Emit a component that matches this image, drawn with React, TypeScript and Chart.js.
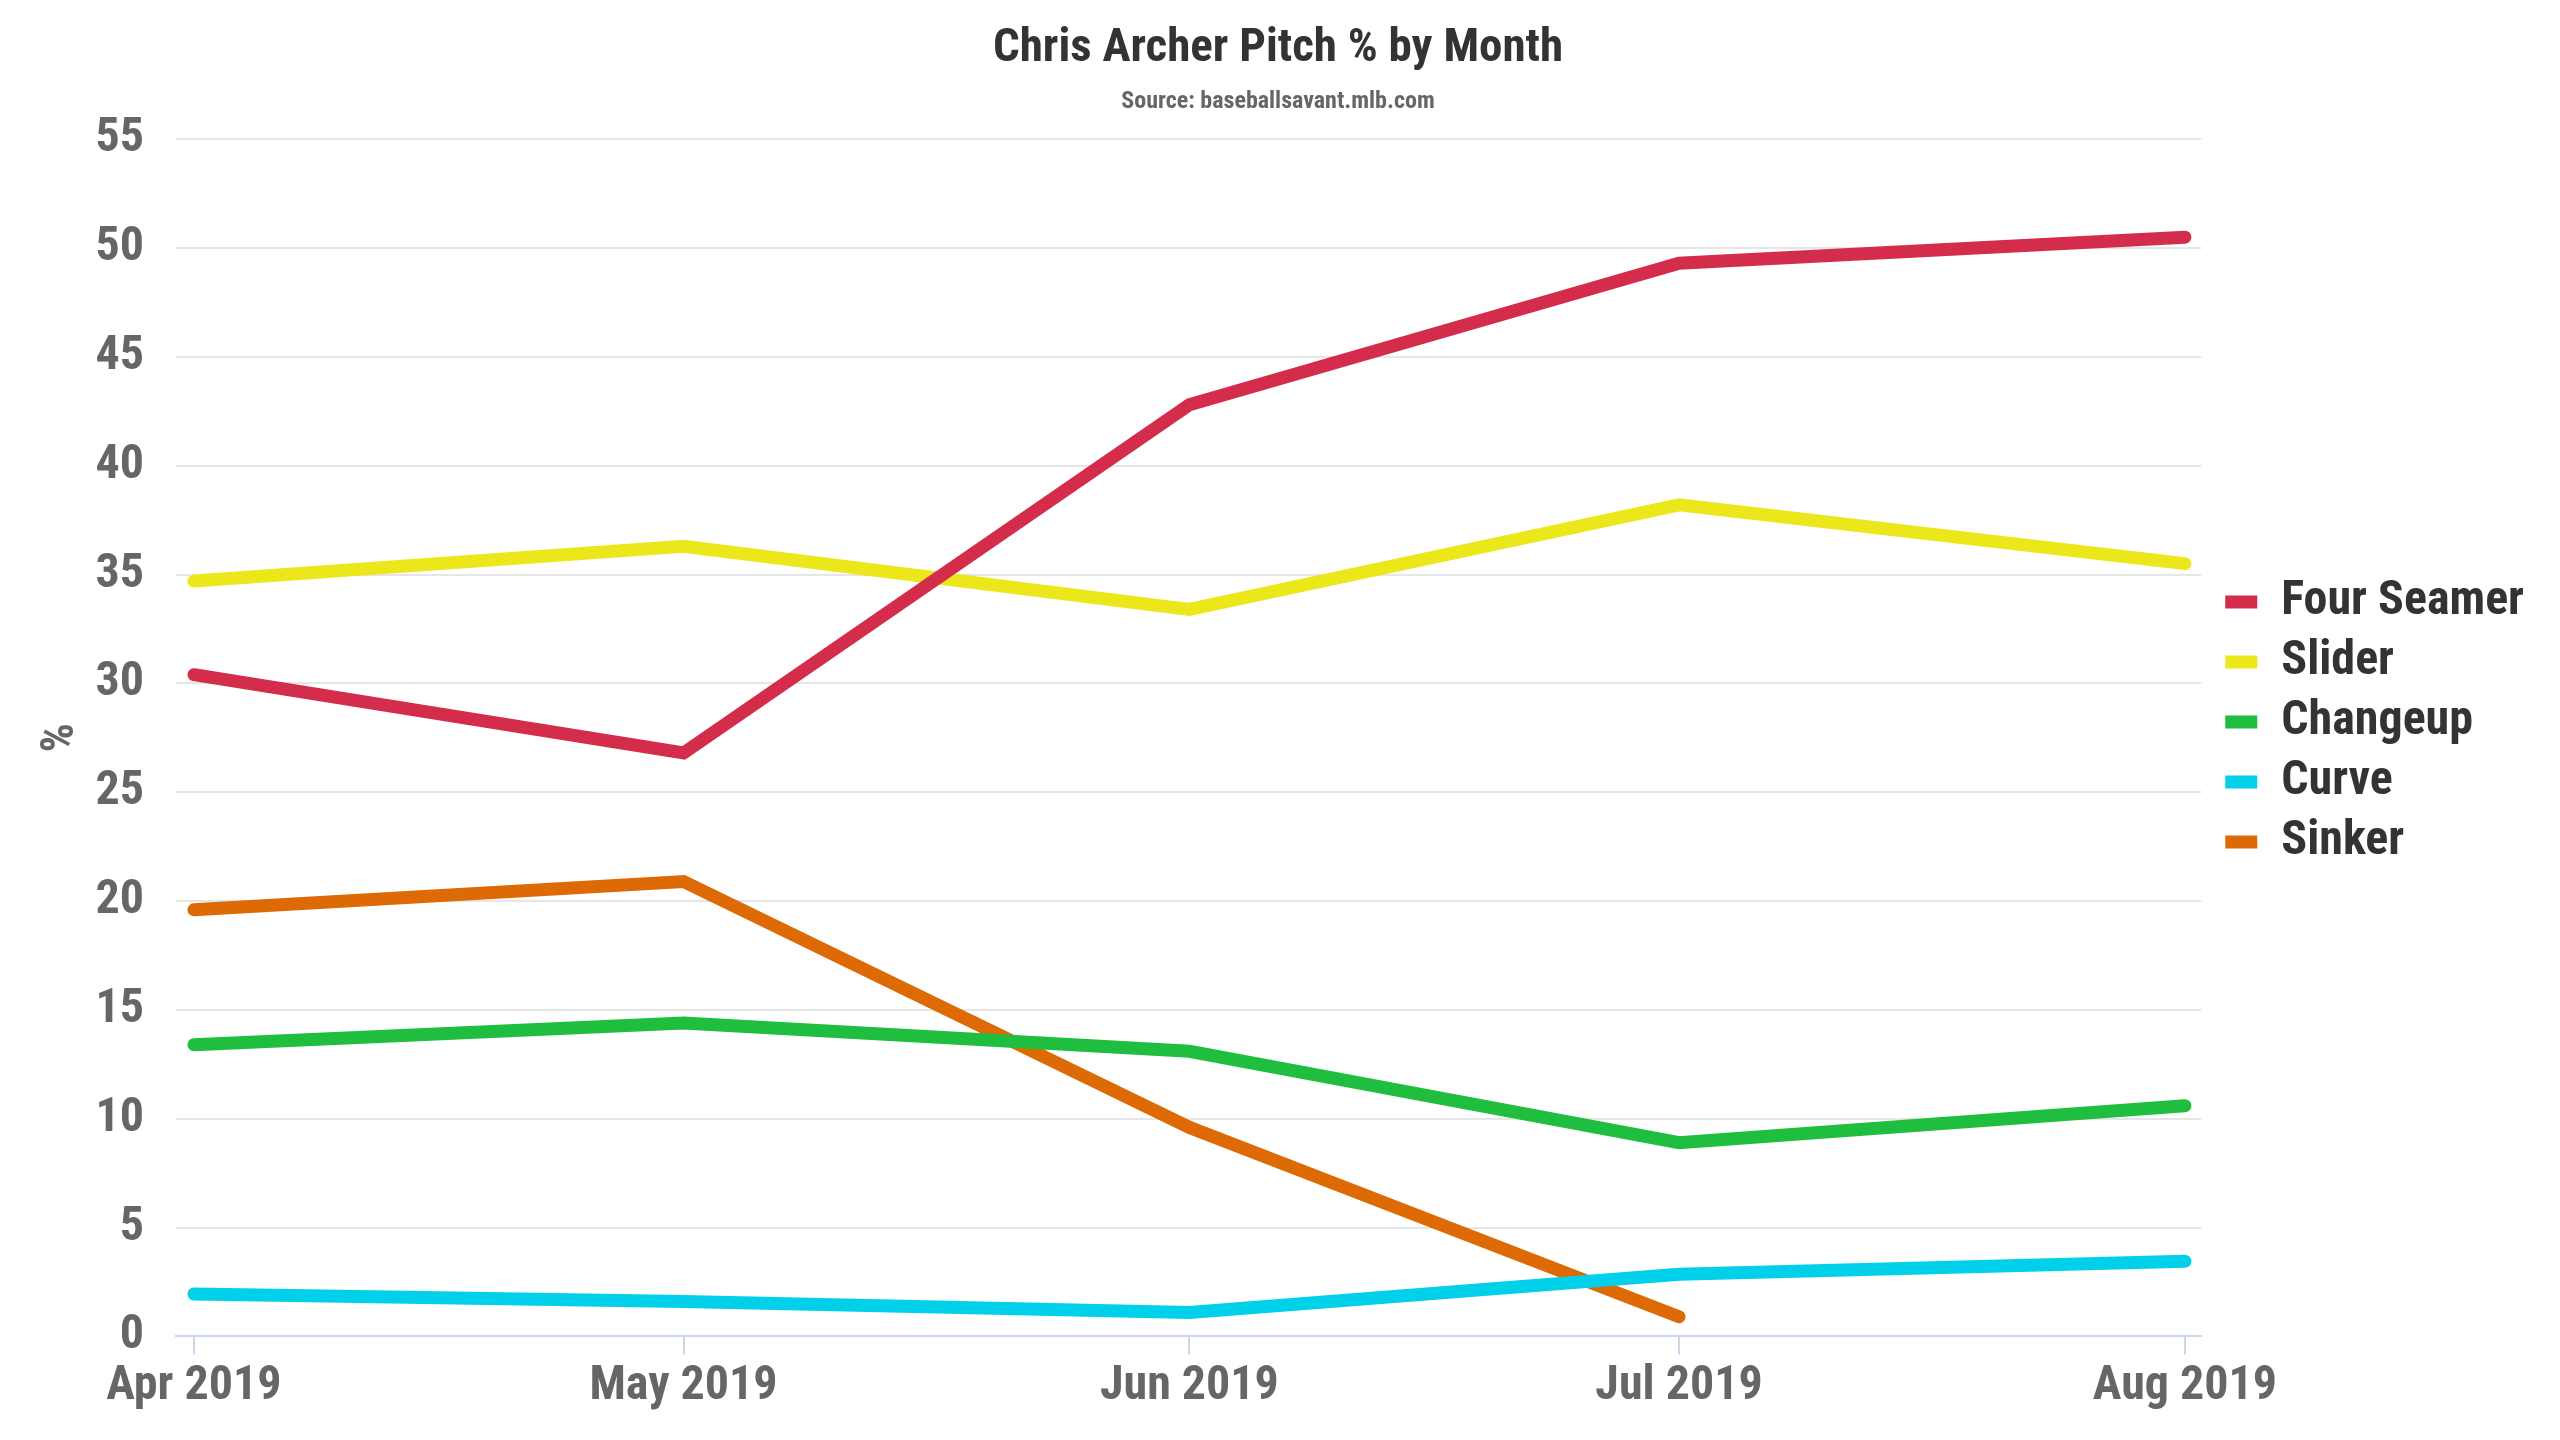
import React, { useEffect, useRef } from "react";
import { Chart, registerables } from "chart.js";

Chart.register(...registerables);

// day-of-year (2019) for the first of each month shown
const monthDays = [91, 121, 152, 182, 213];
const monthLabels = ["Apr 2019", "May 2019", "Jun 2019", "Jul 2019", "Aug 2019"];

const pitchNames = ["Four Seamer", "Slider", "Changeup", "Curve", "Sinker"];
const fourSeamer = [30.4, 26.8, 42.8, 49.3, 50.5];
const slider = [34.7, 36.3, 33.4, 38.2, 35.5];
const changeup = [13.4, 14.4, 13.1, 8.9, 10.6];
const curve = [1.95, 1.6, 1.1, 2.85, 3.45];
const sinker = [19.6, 20.9, 9.6, 0.9];

const pitchColors = ["#d32d4b", "#ebe71a", "#1fbe3e", "#00d0ea", "#dd6a04"];
const yTicks = [0, 5, 10, 15, 20, 25, 30, 35, 40, 45, 50, 55];

const FONT = "'Roboto Condensed', 'Liberation Sans Narrow', 'DejaVu Sans Condensed', Roboto, sans-serif";

// nudge the legend a little away from the plot area
const legendShift = {
  id: "legendShift",
  afterLayout(chart: Chart) {
    const lg: any = chart.legend;
    if (lg) {
      lg.left += 12;
      lg.right += 12;
    }
  },
};

const App: React.FC = () => {
  const canvasRef = useRef<HTMLCanvasElement>(null);
  const chartRef = useRef<Chart | null>(null);

  useEffect(() => {
    document.body.style.margin = "0";
    const ctx = canvasRef.current?.getContext("2d");
    if (!ctx) return;
    if (chartRef.current) chartRef.current.destroy();

    const series = [fourSeamer, slider, changeup, curve, sinker];

    chartRef.current = new Chart(ctx, {
      type: "line",
      data: {
        datasets: series.map((vals, i) => ({
          label: pitchNames[i],
          data: vals.map((v, j) => ({ x: monthDays[j], y: v })),
          borderColor: pitchColors[i],
          backgroundColor: pitchColors[i],
          borderWidth: 13,
          borderCapStyle: "round" as const,
          borderJoinStyle: "miter" as const,
          pointRadius: 0,
          tension: 0,
          fill: false,
        })),
      },
      plugins: [legendShift],
      options: {
        animation: false,
        responsive: true,
        maintainAspectRatio: false,
        devicePixelRatio: 1,
        layout: { padding: { left: 34, right: 38, top: 0, bottom: 20 } },
        plugins: {
          tooltip: { enabled: false },
          title: {
            display: true,
            text: "Chris Archer Pitch % by Month",
            color: "#333333",
            font: { family: FONT, size: 47, weight: "bold", lineHeight: 1.2 },
            padding: { top: 21, bottom: 0 },
          },
          subtitle: {
            display: true,
            text: "Source: baseballsavant.mlb.com",
            color: "#666666",
            font: { family: FONT, size: 24, weight: "bold", lineHeight: 1.2 },
            padding: { top: 10, bottom: 23 },
          },
          legend: {
            position: "right",
            align: "center",
            title: {
              display: true,
              text: " ",
              font: { size: 10, lineHeight: 1.2 },
              padding: 6,
            },
            labels: {
              color: "#333333",
              boxWidth: 32,
              boxHeight: 13,
              padding: 12,
              font: { family: FONT, size: 48, weight: "bold" },
              generateLabels: (chart) =>
                Chart.defaults.plugins.legend.labels.generateLabels(chart).map((item) => ({
                  ...item,
                  lineWidth: 0,
                })),
            },
          },
        },
        scales: {
          x: {
            type: "linear",
            min: 89.9,
            max: 214,
            afterBuildTicks: (scale) => {
              scale.ticks = monthDays.map((v) => ({ value: v }));
            },
            ticks: {
              color: "#666666",
              font: { family: FONT, size: 48, weight: "bold" },
              padding: 4,
              maxRotation: 0,
              autoSkip: false,
              callback: (value) => monthLabels[monthDays.indexOf(Number(value))] ?? "",
            },
            grid: {
              drawOnChartArea: false,
              drawTicks: true,
              tickLength: 18,
              color: "#ccd6eb",
              lineWidth: 2,
            },
            border: { display: true, color: "#ccd6eb", width: 2 },
          },
          y: {
            min: 0,
            max: 55,
            afterBuildTicks: (scale) => {
              scale.ticks = yTicks.map((v) => ({ value: v }));
            },
            afterFit: (scale) => {
              scale.width = 142;
            },
            title: {
              display: true,
              text: "%",
              color: "#666666",
              font: { family: FONT, size: 46, weight: "bold" },
              padding: { top: 0, bottom: 8 },
            },
            ticks: {
              color: "#666666",
              font: { family: FONT, size: 48, weight: "bold" },
              padding: 32,
            },
            grid: {
              color: "#e6e6e6",
              lineWidth: 2,
              drawTicks: false,
            },
            border: { display: false },
          },
        },
      },
    });

    return () => {
      if (chartRef.current) {
        chartRef.current.destroy();
        chartRef.current = null;
      }
    };
  }, []);

  return (
    <div style={{ position: "absolute", left: 0, top: 0, width: "2560px", height: "1440px", background: "#ffffff" }}>
      <canvas ref={canvasRef} />
    </div>
  );
};

export default App;
